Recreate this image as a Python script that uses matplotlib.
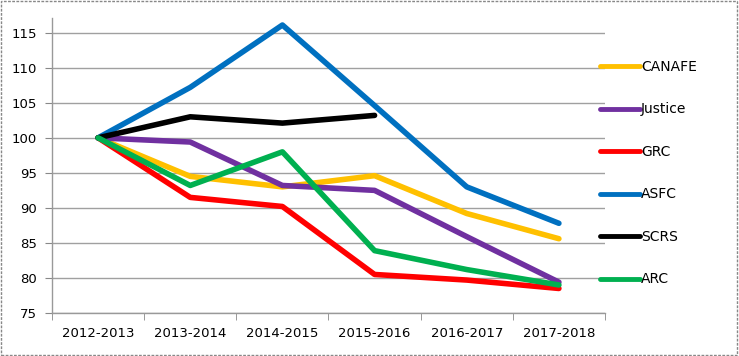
import matplotlib
matplotlib.use("Agg")
import matplotlib.pyplot as plt
from matplotlib.patches import Rectangle

categories = ["2012-2013", "2013-2014", "2014-2015", "2015-2016", "2016-2017", "2017-2018"]
canafe = [100, 94.5, 93.0, 94.6, 89.2, 85.6]
justice = [100, 99.4, 93.2, 92.5, 85.9, 79.4]
grc = [100, 91.5, 90.2, 80.5, 79.7, 78.5]
asfc = [100, 107.2, 116.1, 104.6, 93.0, 87.8]
scrs = [100, 103.0, 102.1, 103.2]
arc = [100, 93.2, 98.0, 83.9, 81.2, 79.0]
series_names = ["CANAFE", "Justice", "GRC", "ASFC", "SCRS", "ARC"]
colors = ["#FFC000", "#7030A0", "#FF0000", "#0070C0", "#000000", "#00B050"]
yticks = [75, 80, 85, 90, 95, 100, 105, 110, 115]

plt.rcParams['font.family'] = ['DejaVu Sans']
fig = plt.figure(figsize=(7.39, 3.56), dpi=100)
ax = fig.add_axes([52/739, 1-313/356, (605-52)/739, (313-18)/356])

x = list(range(len(categories)))
data = [canafe, justice, grc, asfc, scrs, arc]
for name, vals, c in zip(series_names, data, colors):
    ax.plot(x[:len(vals)], vals, color=c, lw=4, label=name,
            solid_joinstyle='round', solid_capstyle='round')

ax.set_xlim(-0.5, len(categories) - 0.5)
ax.set_ylim(75, 117.1)
ax.set_yticks(yticks)
ax.set_yticklabels([str(v) for v in yticks], fontsize=9.5)
ax.set_xticks(x)
ax.set_xticklabels(categories, fontsize=9.5)
ax.tick_params(axis='x', length=0, pad=10)
ax.set_xticks([i - 0.5 for i in range(len(categories) + 1)], minor=True)
ax.tick_params(axis='x', which='minor', length=5, color='#888888', direction='out')
ax.tick_params(axis='y', length=5, color='#888888', pad=6)
ax.yaxis.grid(True, color='#a0a0a0', lw=1)
ax.set_axisbelow(True)
for s in ['top', 'right']:
    ax.spines[s].set_visible(False)
for s in ['left', 'bottom']:
    ax.spines[s].set_color('#999999')
    ax.spines[s].set_linewidth(1)

leg = ax.legend(loc='upper left', bbox_to_anchor=(600/739, 1-60/356),
                bbox_transform=fig.transFigure, frameon=False, fontsize=10,
                handlelength=2.9, handletextpad=0.05, labelspacing=2.05,
                borderaxespad=0, borderpad=0)
for h in leg.get_lines():
    h.set_solid_capstyle('round')
    h.set_linewidth(3.5)

fig.patches.append(Rectangle((0.002, 0.003), 0.995, 0.993, transform=fig.transFigure,
                             fill=False, edgecolor='#888888', lw=1, ls=(0, (2, 1))))
fig.savefig("out.png", dpi=100)
